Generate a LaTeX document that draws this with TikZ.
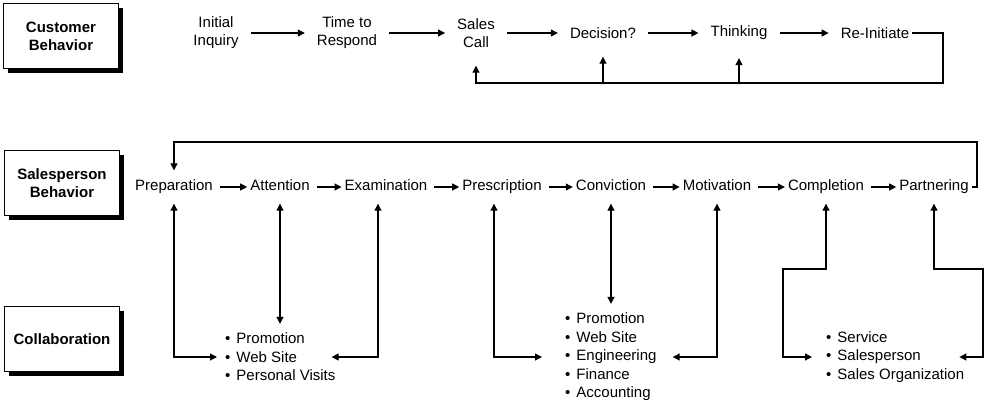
\documentclass[tikz,border=0pt]{standalone}
\usepackage{fontspec}
\setmainfont{Liberation Sans}
\usetikzlibrary{arrows.meta,shadows}
\newcommand{\bul}[1]{\textbullet\hspace{6pt}#1}

\begin{document}
\begin{tikzpicture}[x=1pt, y=-1pt,
  font={\fontsize{15}{18}\selectfont},
  lane/.style={draw, line width=1pt, fill=white, minimum width=115pt, minimum height=65pt, align=center,
    font={\fontsize{15}{18}\selectfont\bfseries},
    drop shadow={shadow xshift=4pt, shadow yshift=-4pt, fill=black, opacity=1}},
  act/.style={align=center, inner xsep=12pt, inner ysep=18pt},
  stage/.style={inner xsep=3pt, inner ysep=9pt, text height=11pt, text depth=4pt},
  items/.style={align=left, anchor=west, inner xsep=0pt, inner ysep=9pt, font={\fontsize{15}{18.5}\selectfont}},
  link/.style={line width=1.1pt, -{Triangle[length=7pt,width=7pt]}},
  both/.style={line width=1.1pt, {Triangle[length=7pt,width=7pt]}-{Triangle[length=7pt,width=7pt]}}]

\useasboundingbox (0,0) rectangle (989,405);

% Row labels
\node[lane] (cust) at (61,36) {Customer\\Behavior};
\node[lane] (sale) at (62,183) {Salesperson\\Behavior};
\node[lane] (coll) at (62,339) {Collaboration};

% Customer behavior
\node[act] (ini) at (216,33) {Initial\\Inquiry};
\node[act] (ttr) at (347,33) {Time to\\Respond};
\node[act] (call) at (476,33) {Sales\\Call};
\node[act] (dec) at (603,33) {Decision?};
\node[act] (think) at (739,33) {Thinking};
\node[act] (reinit) at (875,33) {Re-Initiate};

\foreach \a/\b in {ini/ttr, ttr/call, call/dec, dec/think, think/reinit}
    \draw[link] (\a) -- (\b);

% Loop back
\coordinate (back) at (943,83);
\draw[link] ([xshift=-9pt]reinit.east) -| (back) -| (call.south);
\draw[link] (dec |- back) -- (dec.south);
\draw[link] (think |- back) -- (think.south);

% Salesperson behavior
\node[stage] (prep) at (174,187) {Preparation};
\node[stage] (att) at (280,187) {Attention};
\node[stage] (exam) at (386,187) {Examination};
\node[stage] (presc) at (502,187) {Prescription};
\node[stage] (conv) at (611,187) {Conviction};
\node[stage] (motiv) at (717,187) {Motivation};
\node[stage] (compl) at (826,187) {Completion};
\node[stage] (partn) at (934,187) {Partnering};

\foreach \a/\b in {prep/att, att/exam, exam/presc, presc/conv, conv/motiv, motiv/compl, compl/partn}
    \draw[link, shorten <=4pt] (\a) -- (\b);

\coordinate (over) at (977,142);
\draw[link] (partn.east) -| (over) -| (prep.north);

% Collaboration
\node[items] (lst1) at (225,357) {\bul{Promotion}\\\bul{Web Site}\\\bul{Personal Visits}};
\node[items] (lst2) at (565,357) {\bul{Promotion}\\\bul{Web Site}\\\bul{Engineering}\\\bul{Finance}\\\bul{Accounting}};
\node[items] (lst3) at (826,357) {\bul{Service}\\\bul{Salesperson}\\\bul{Sales Organization}};

\draw[both] (prep.south) |- ([xshift=-8pt]lst1.west);
\draw[both] (att.south) -- (att |- lst1.north);
\draw[both] ([xshift=-8pt]exam.south) |- ([xshift=-4pt]lst1.east);

\draw[both] ([xshift=-8pt]presc.south) |- ([xshift=-23pt]lst2.west);
\draw[both] (conv.south) -- (conv |- lst2.north);
\draw[both] (motiv.south) |- ([xshift=16pt]lst2.east);

\coordinate (cbend) at (783,269);
\coordinate (pbend) at (983,269);
\draw[both] (compl.south) |- (cbend) |- ([xshift=-14pt]lst3.west);
\draw[both] (partn.south) |- (pbend) |- ([xshift=-5pt]lst3.east);

\end{tikzpicture}
\end{document}
